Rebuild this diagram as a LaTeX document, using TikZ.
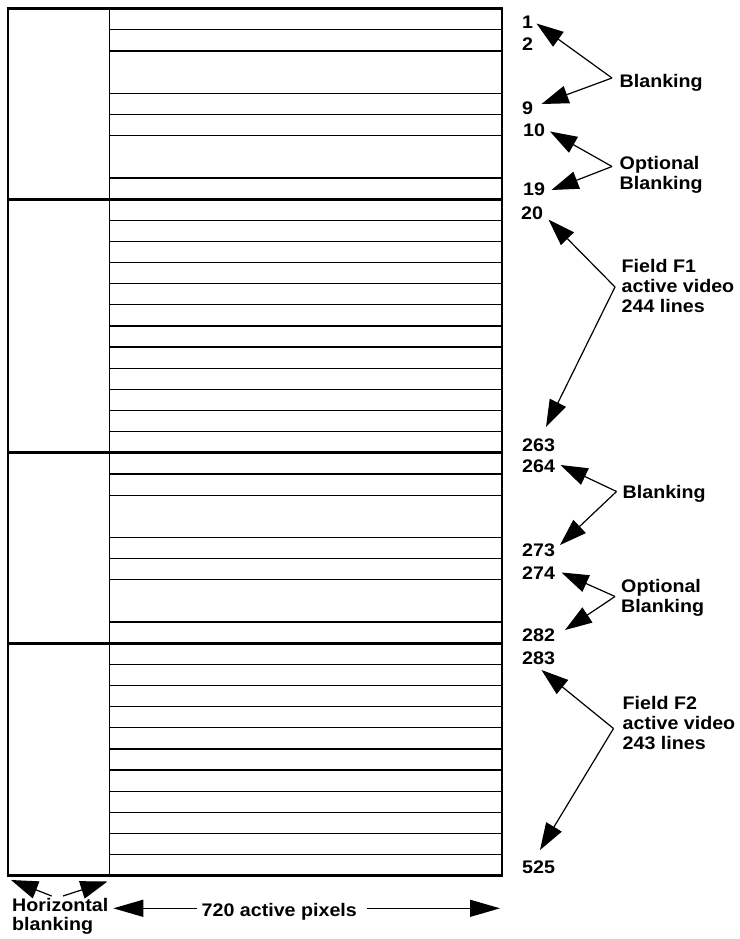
\documentclass[tikz,border=0pt]{standalone}
\usepackage{fontspec}
\usetikzlibrary{arrows.meta}
\newfontfamily\labfont{Liberation Sans Bold}[FakeStretch=1.08]
\begin{document}
\begin{tikzpicture}[x=1pt,y=-1pt,
  lab/.style={font={\labfont\fontsize{18.2}{19.8}\selectfont},inner sep=0pt,anchor=base west,align=left},
  frame/.style={line width=2pt},
  thick rule/.style={line width=3pt},
  row rule/.style={line width=1.3pt},
  ptr/.style={line width=1.2pt,-{Triangle[length=27,width=18]}},
  dim/.style={line width=1.2pt,-{Triangle[length=30,width=17]}}]
\useasboundingbox (0,0) rectangle (739,939);
\fill[white] (0,0) rectangle (739,939);

% grid geometry: one line period = 21.15 units
\def\xL{8.3}\def\xD{109.3}\def\xR{501.5}
\def\yT{8.7}\def\u{21.15}

% row separators inside the active area
\foreach \k in {1,2,4,5,6,8,10,11,...,20,22,23,25,26,27,29,31,32,...,40}
  \draw[row rule] (\xD,\yT+\k*\u) -- (\xR,\yT+\k*\u);
% outer frame and blanking/active divider
\draw[frame] (\xL,\yT) -- (\xL,\yT+41*\u);
\draw[frame] (\xR,\yT) -- (\xR,\yT+41*\u);
\draw[line width=1.6pt] (\xD,\yT) -- (\xD,\yT+41*\u);
% field/blanking boundaries
\foreach \k in {0,9,21,30,41}
  \draw[thick rule] (\xL-1.5,\yT+\k*\u) -- (\xR+1,\yT+\k*\u);

% line numbers
\node[lab] (n1)   at (522,28.5)  {1};
\node[lab] (n2)   at (522,51)    {2};
\node[lab] (n9)   at (522,115)   {9};
\node[lab] (n10)  at (523,136)   {10};
\node[lab] (n19)  at (523,195.5) {19};
\node[lab] (n20)  at (521,219)   {20};
\node[lab] (n263) at (522,451.5) {263};
\node[lab] (n264) at (522,472.5) {264};
\node[lab] (n273) at (522,556.5) {273};
\node[lab] (n274) at (522,579)   {274};
\node[lab] (n282) at (522,641.5) {282};
\node[lab] (n283) at (522,664.5) {283};
\node[lab] (n525) at (522,873)   {525};

% region labels (anchored at the baseline of their last line)
\node[lab] (blank1) at (619.5,87.3)  {Blanking};
\node[lab] (opt1)   at (619.5,189)   {Optional\\Blanking};
\node[lab] (fone)   at (621.5,312.5) {Field F1\\active video\\244 lines};
\node[lab] (blank2) at (622.5,498.5) {Blanking};
\node[lab] (opt2)   at (621,612)     {Optional\\Blanking};
\node[lab] (ftwo)   at (622.5,749)   {Field F2\\active video\\243 lines};

% pointer vertices and tips
\coordinate (vb1) at (612,78);     \coordinate (tb1a) at (536.5,23.5); \coordinate (tb1b) at (541.5,104);
\coordinate (vo1) at (612,166.5);  \coordinate (to1a) at (550,131.5);  \coordinate (to1b) at (551.5,190);
\coordinate (vf1) at (615,287);    \coordinate (tf1a) at (548.5,219.5); \coordinate (tf1b) at (546,427);
\coordinate (vb2) at (616.5,491.5);\coordinate (tb2a) at (560.5,465);  \coordinate (tb2b) at (560,545);
\coordinate (vo2) at (615,596.5);  \coordinate (to2a) at (561.5,572.5);\coordinate (to2b) at (565,630);
\coordinate (vf2) at (613.5,728.5);\coordinate (tf2a) at (541.5,670);  \coordinate (tf2b) at (540,850);

\foreach \v/\a/\b in {vb1/tb1a/tb1b, vo1/to1a/to1b, vf1/tf1a/tf1b,
                      vb2/tb2a/tb2b, vo2/to2a/to2b, vf2/tf2a/tf2b}{
  \draw[ptr] (\v) -- (\a);
  \draw[ptr] (\v) -- (\b);
}

% bottom dimension labels
\node[lab,font={\labfont\fontsize{18.2}{18.5}\selectfont}] (hbl) at (12,930) {Horizontal\\blanking};
\node[lab] (act) at (201.5,916.5) {720 active pixels};

\coordinate (hbLs) at (51.7,896);  \coordinate (hbLt) at (11,880);
\coordinate (hbRs) at (63,896);    \coordinate (hbRt) at (107.5,881.5);
\draw[ptr] (hbLs) -- (hbLt);
\draw[ptr] (hbRs) -- (hbRt);

\coordinate (aLs) at (196.7,908.3); \coordinate (aLt) at (113.3,908.3);
\coordinate (aRs) at (366.7,908.3); \coordinate (aRt) at (500,908.3);
\draw[dim] (aLs) -- (aLt);
\draw[dim] (aRs) -- (aRt);
\end{tikzpicture}
\end{document}
